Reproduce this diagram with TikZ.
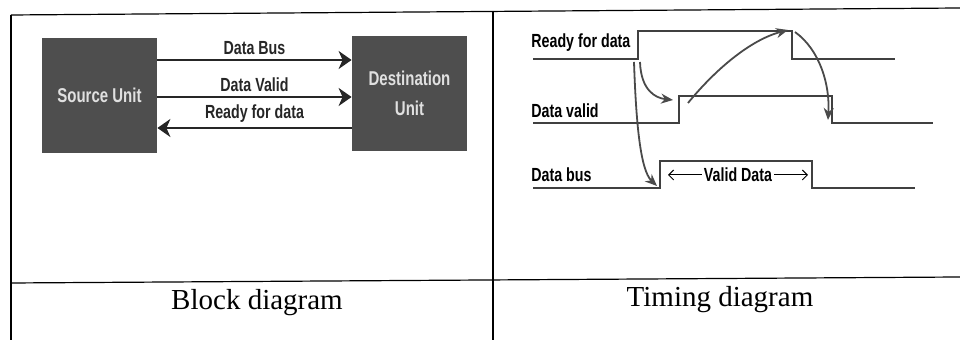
\documentclass[tikz,border=0pt]{standalone}
\usepackage{fontspec}
\setmainfont{Liberation Serif}
\newfontfamily\condsans[FakeStretch=0.75]{Liberation Sans}
\usetikzlibrary{arrows.meta}
\definecolor{unit-grey}{HTML}{4E4E4E}
\definecolor{wave-grey}{HTML}{4A4A4A}

\begin{document}
\begin{tikzpicture}[x=0.5pt, y=-0.5pt,
  unit/.style={fill=unit-grey, text=white!88!black, align=center, minimum width=57.5pt, minimum height=57.5pt, font=\condsans\bfseries\fontsize{10}{15}\selectfont},
  link/.style={line width=1.3pt, black!85},
  fwd/.style={-{Stealth[length=6.5pt, width=9pt, inset=2pt]}},
  bwd/.style={{Stealth[length=6.5pt, width=9pt, inset=2pt]}-},
  sig font/.style={font=\condsans\bfseries\fontsize{9.5}{11}\selectfont},
  wave/.style={line width=0.6pt, black!75},
  cause/.style={line width=0.9pt, wave-grey, -{Stealth[length=6pt, width=5pt]}},
  span/.style={line width=0.5pt, {Straight Barb[length=2.5pt]}-{Straight Barb[length=2.5pt]}},
  caption/.style={anchor=base, font=\fontsize{14.5}{17}\selectfont}]
\useasboundingbox (0,0) rectangle (960,340);
% table rules
\draw[line width=0.6pt] (11,15) -- (960,8);
\draw[line width=0.6pt] (11,283) -- (960,277);
\draw[line width=0.6pt] (11,15) -- (11,340);
\draw[line width=0.6pt] (493,11) -- (493,340);
\node[caption] (cap-block) at (257,310) {Block diagram};
\node[caption] (cap-timing) at (720,307) {Timing diagram};
% block diagram
\node[unit] (src) at (99.5,95.5) {Source Unit};
\node[unit] (dst) at (409.5,93.5) {Destination\\Unit};
\foreach \y/\txt/\dir in {
    60/Data Bus/fwd,
    97/Data Valid/fwd,
    128/Ready for data/bwd} {
  \draw[link, \dir] (src.east |- 0,\y) -- node[above, inner sep=2pt, sig font] {\txt} (dst.west |- 0,\y);
}
% timing diagram
\foreach \name/\txt/\base/\lo/\hi/\rise/\fall/\stop in {
    rdy/Ready for data/48/59/31/638/792/895,
    vld/Data valid/118/123/96/679/832/933,
    bus/Data bus/182/188/161/660/812/915} {
  \node[sig font, anchor=base west, inner sep=0pt] (lbl-\name) at (531,\base) {\txt};
  \coordinate (\name-rl) at (\rise,\lo);
  \coordinate (\name-up) at (\rise,\hi);
  \coordinate (\name-dn) at (\fall,\hi);
  \coordinate (\name-fl) at (\fall,\lo);
  \draw[wave] (533,\lo) -- (\name-rl) -- (\name-up) -- (\name-dn) -- (\name-fl) -- (\stop,\lo);
}
\draw[cause] ([shift={(2,3)}]rdy-rl) .. controls +(1,28) and +(-18,-2) .. ([shift={(-6,4)}]vld-up);
\draw[cause] ([shift={(9,7)}]vld-up) .. controls +(27,-33) and +(-38,10) .. ([shift={(-4,-1)}]rdy-dn);
\draw[cause] ([shift={(3,1)}]rdy-dn) .. controls +(25,18) and +(2,-35) .. ([shift={(-4,-3)}]vld-fl);
\draw[cause] ([shift={(-4,3)}]rdy-rl) .. controls +(2,58) and +(-17,-16) .. ([shift={(-3,-2)}]bus-rl);
\coordinate (vd-l) at ([shift={(8,14)}]bus-up);
\coordinate (vd-r) at ([shift={(-4,14)}]bus-dn);
\draw[span] (vd-l) -- node[fill=white, inner sep=1pt, sig font] {Valid Data} (vd-r);
\end{tikzpicture}
\end{document}
